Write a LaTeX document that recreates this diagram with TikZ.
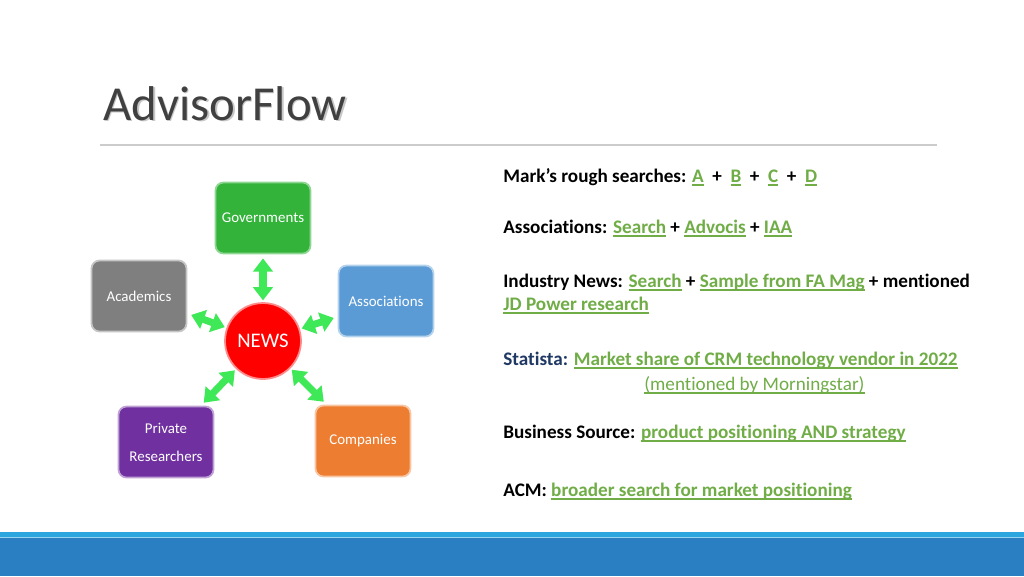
\documentclass[tikz,border=0pt]{standalone}
\usepackage{fontspec}
\setmainfont{Carlito}[Ligatures=NoCommon]
\usetikzlibrary{arrows.meta,positioning}

\definecolor{linkgreen}{HTML}{70AD47}
\definecolor{navytext}{HTML}{1F3864}
\definecolor{titlegray}{HTML}{404040}
\definecolor{govgreen}{HTML}{33B33A}
\definecolor{acadgray}{HTML}{7F7F7F}
\definecolor{assocblue}{HTML}{5B9BD5}
\definecolor{privpurple}{HTML}{7030A0}
\definecolor{comporange}{HTML}{ED7D31}
\definecolor{arrowgreen}{HTML}{3FE857}
\definecolor{barlight}{HTML}{2BA6DE}
\definecolor{barblue}{HTML}{2A7FC3}

\newcommand{\lnk}[1]{\textcolor{linkgreen}{\setbox0\hbox{#1}\rlap{\rule[-2pt]{\wd0}{0.65pt}}\box0}}

\begin{document}
\begin{tikzpicture}[
    x=0.02cm, y=-0.02cm,
    topic/.style={rectangle, rounded corners=0.16cm, minimum width=1.9cm, minimum height=1.42cm,
        inner sep=0pt, text=white, font=\fontsize{8.5}{16}\selectfont, align=center, line width=1pt},
    hub/.style={circle, fill=red, draw=red!45!white, line width=1pt, minimum size=1.52cm,
        inner sep=0pt, text=white, font=\fontsize{11.8}{14}\selectfont},
    link arrow/.style={arrowgreen, line width=4pt, {Triangle[width=11pt,length=7.5pt]}-{Triangle[width=11pt,length=7.5pt]},
        shorten <=1pt, shorten >=2.3pt},
    entry/.style={anchor=base west, inner sep=0pt, font=\fontsize{10.9}{13}\selectfont\bfseries}
]
    % page and bottom band
    \fill[white] (0,0) rectangle (1024,576);
    \fill[barlight] (0,532) rectangle (1024,537);
    \fill[barlight!50!white] (0,537) rectangle (1024,538);
    \fill[barblue] (0,538) rectangle (1024,576);

    % title
    \node[anchor=base west, inner sep=0pt, text=black!22, font=\fontsize{27.8}{30}\selectfont] (titleshadow) at (104.5,121.5) {AdvisorFlow};
    \node[anchor=base west, inner sep=0pt, text=titlegray, font=\fontsize{27.8}{30}\selectfont] (title) at (103,120) {AdvisorFlow};
    \draw[black!20, line width=0.6pt] (100,145) -- (937,145);

    % news diagram
    \node[hub] (news) at (263,341) {NEWS};
    \node[topic, fill=govgreen, draw=govgreen!55!white] (gov) at (263,218) {Governments};
    \node[topic, fill=acadgray, draw=acadgray!45!white] (acad) at (139,296) {Academics};
    \node[topic, fill=assocblue, draw=assocblue!45!white] (assoc) at (386,301) {Associations};
    \node[topic, fill=privpurple, draw=privpurple!45!white] (priv) at (166,442) {Private\\Researchers};
    \node[topic, fill=comporange, draw=comporange!45!white] (comp) at (363,441) {Companies};

    \foreach \n in {gov,acad,assoc,priv,comp}
        \draw[link arrow] (news) -- (\n);

    % sources
    \node[entry] (marks) at (503,182) {Mark’s rough searches: \lnk{A} \ + \ \lnk{B} \ + \ \lnk{C} \ + \ \lnk{D}};
    \node[entry] (assocs) at (503,233) {Associations: \lnk{Search} + \lnk{Advocis} + \lnk{IAA}};
    \node[entry] (industry) at (503,287) {Industry News: \lnk{Search} + \lnk{Sample from FA Mag} + mentioned};
    \node[entry] (jdpower) at (503,310) {\lnk{JD Power research}};
    \node[entry] (statista) at (503,365) {\textcolor{navytext}{Statista:} \lnk{Market share of CRM technology vendor in 2022}};
    \node[entry, font=\fontsize{10.9}{13}\selectfont] (morning) at (644,390) {\lnk{(mentioned by Morningstar)}};
    \node[entry] (business) at (503,438) {Business Source: \lnk{product positioning AND strategy}};
    \node[entry] (acm) at (503,496) {ACM: \lnk{broader search for market positioning}};
\end{tikzpicture}
\end{document}
